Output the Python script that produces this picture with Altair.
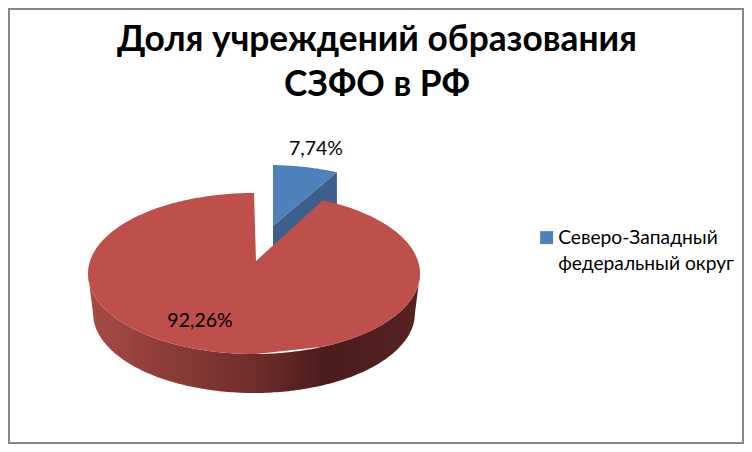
import numpy as np
import pandas as pd
import altair as alt

# ---- values
names = ["Северо-Западный федеральный округ", "Другие округа"]
shares = [7.74, 92.26]
title_lines = ["Доля учреждений образования", "СЗФО в РФ"]
legend_lines = ["Северо-Западный", "федеральный округ"]
FONT = "Lato"

# ---- projection of the tilted pie (reference pixel units)
CX, CY, RX, RY = 254.0, 273.5, 166.0, 80.5      # top face of the large slice
CY_BOTTOM, RX_BOTTOM, RY_BOTTOM = 313.0, 161.0, 80.0
APEX_RED = (256.0, 261.0)
APEX_BLUE = (273.0, 226.0)
CX_BLUE, CY_BLUE = 268.0, 245.5
DEPTH = 39.0
BACK_FORESHORTEN = 0.88

theta = np.radians(shares[0] / 100 * 360 * BACK_FORESHORTEN)
edge_dx = RX * np.sin(theta)

t = np.linspace(0, np.pi, 181)
ell_dx = -RX * np.cos(t)


def top_edge(cy, dx):
    return cy - RY * np.sqrt(np.clip(1 - (dx / RX) ** 2, 0, 1))


def low_edge(cy, dx):
    return cy + RY * np.sqrt(np.clip(1 - (dx / RX) ** 2, 0, 1))


# large slice, top face: the ellipse with the notch of the small slice taken out
xs = CX + ell_dx
edge_x = CX + edge_dx
edge_y = top_edge(CY, np.array(edge_dx))
keep = (xs <= APEX_RED[0]) | (xs >= edge_x)
xs_all = np.concatenate([xs[keep], [APEX_RED[0] + 0.01, edge_x]])
upper = np.where(
    (xs_all > APEX_RED[0]) & (xs_all <= edge_x),
    np.interp(xs_all, [APEX_RED[0], edge_x], [APEX_RED[1], edge_y]),
    top_edge(CY, xs_all - CX),
)
order = np.argsort(xs_all)
red_top = pd.DataFrame({"x": xs_all[order], "y": upper[order],
                        "y2": low_edge(CY, xs_all[order] - CX)})

# large slice, rim
rim_dx = ell_dx
rim_top = low_edge(CY, rim_dx)
rim_low = np.where(
    np.abs(rim_dx) <= RX_BOTTOM,
    CY_BOTTOM + RY_BOTTOM * np.sqrt(np.clip(1 - (rim_dx / RX_BOTTOM) ** 2, 0, 1)),
    CY + (RX - np.abs(rim_dx)) / (RX - RX_BOTTOM) * (CY_BOTTOM - CY),
)
red_rim = pd.DataFrame({"x": CX + rim_dx, "y": rim_top, "y2": rim_low})

# small slice, pulled out
bx = np.linspace(APEX_BLUE[0], CX_BLUE + edge_dx, 40)
by_top = top_edge(CY_BLUE, bx - CX_BLUE)
by_low = np.interp(bx, [bx[0], bx[-1]], [APEX_BLUE[1], by_top[-1]])
blue_top = pd.DataFrame({"x": bx, "y": by_top, "y2": by_low, "name": names[0]})
blue_cut = pd.DataFrame({"x": bx, "y": by_low, "y2": by_low + DEPTH})

pct = [f"{s:.2f}".replace(".", ",") + "%" for s in shares]
labels = pd.DataFrame({"x": [316, 200], "y": [149, 321], "t": pct})
frame = pd.DataFrame({"x": [9], "x2": [743], "y": [9], "y2": [443]})

X = alt.Scale(domain=[8, 744], nice=False, zero=False)
Y = alt.Scale(domain=[444, 8], nice=False, zero=False)


def enc(base, **kw):
    return base.encode(
        x=alt.X("x:Q", scale=X, axis=None),
        y=alt.Y("y:Q", scale=Y, axis=None),
        **kw,
    )


rim_gradient = alt.Gradient(
    gradient="linear", x1=0, x2=1, y1=0, y2=0,
    stops=[
        alt.GradientStop(offset=0.0, color="#a84a46"),
        alt.GradientStop(offset=0.5, color="#6f2d2b"),
        alt.GradientStop(offset=0.72, color="#4a1c1c"),
        alt.GradientStop(offset=1.0, color="#572321"),
    ],
)

blue_layer = enc(alt.Chart(blue_top).mark_area(), y2="y2:Q", color=alt.Color(
    "name:N",
    scale=alt.Scale(range=["#4f81bd"]),
    legend=alt.Legend(
        orient="none", legendX=529, legendY=220, title=None,
        symbolType="square", symbolSize=169, symbolStrokeWidth=0,
        labelFont=FONT, labelFontSize=19.2, labelColor="#000000",
        labelLimit=300, padding=0, labelOffset=2,
        labelExpr="['" + legend_lines[0] + "', '" + legend_lines[1] + "']",
    ),
))
cut_layer = enc(alt.Chart(blue_cut).mark_area(color="#3c5f8b"), y2="y2:Q")
rim_layer = enc(alt.Chart(red_rim).mark_area(color=rim_gradient), y2="y2:Q")
red_layer = enc(alt.Chart(red_top).mark_area(color="#be4f4b"), y2="y2:Q")
text_layer = enc(
    alt.Chart(labels).mark_text(font=FONT, fontSize=19.5, color="#000000"),
    text="t:N",
)
frame_layer = alt.Chart(frame).mark_rect(
    fillOpacity=0, stroke="#868686", strokeWidth=2
).encode(
    x=alt.X("x:Q", scale=X, axis=None), x2="x2:Q",
    y=alt.Y("y:Q", scale=Y, axis=None), y2="y2:Q",
)

chart = alt.layer(
    frame_layer, blue_layer, cut_layer, rim_layer, red_layer, text_layer
).properties(
    width=736, height=436,
    padding=0,
    autosize=alt.AutoSizeParams(type="none"),
    title=alt.TitleParams(
        text=title_lines, font=FONT, fontSize=35.3, fontWeight="bold",
        color="#000000", anchor="middle", dx=1, offset=0, dy=95, lineHeight=45,
    ),
).configure_view(stroke=None).configure(
    style={"guide-label": {"lineHeight": 26}}
)

chart.save("out.html", embed_options={"renderer": "svg", "actions": False})
